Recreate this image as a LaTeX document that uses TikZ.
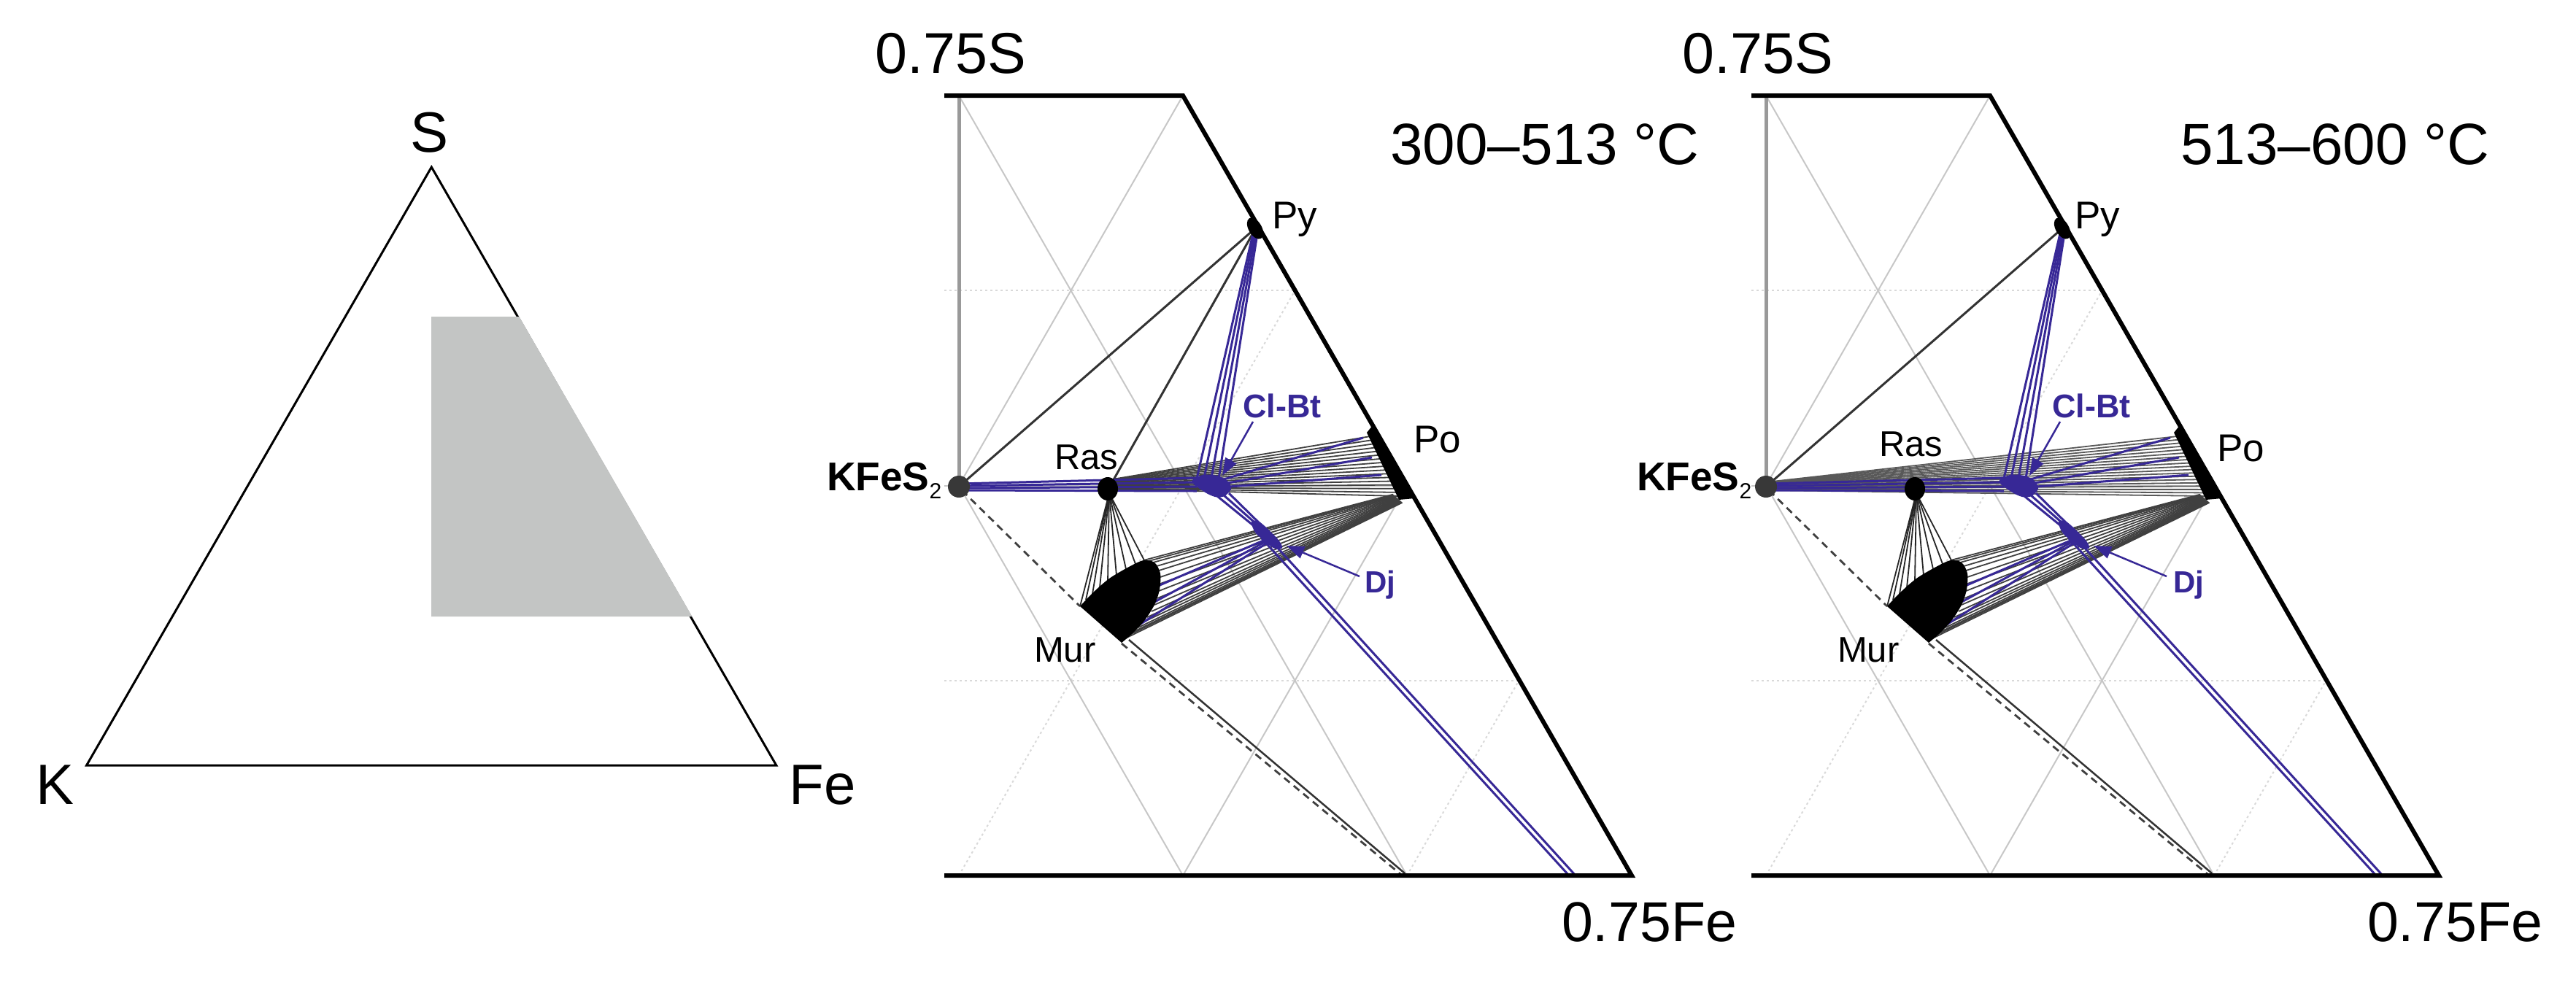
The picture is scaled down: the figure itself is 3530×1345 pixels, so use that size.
\documentclass[tikz,border=0pt]{standalone}
\usepackage{fontspec}
\setmainfont{Liberation Sans}
\usetikzlibrary{arrows.meta}
\definecolor{tieblue}{RGB}{55,40,150}
\definecolor{shadegrey}{RGB}{195,197,196}
\newcommand\myfs[1]{\fontsize{#1}{#1}\selectfont}
\newcommand\kfsub{\raisebox{-11pt}{\fontsize{30}{30}\selectfont\mdseries 2}}
\begin{document}
\begin{tikzpicture}[x=1pt,y=-1pt,
  lbl/.style={inner sep=0pt, outer sep=0pt, anchor=base west},
  lblc/.style={inner sep=0pt, outer sep=0pt, anchor=base},
  gridsolid/.style={draw=black!22, line width=2pt},
  griddot/.style={draw=black!15, line width=2pt, dash pattern=on 3pt off 4pt},
  frameline/.style={draw=black, line width=6pt, line join=miter},
  tieline/.style={draw=black!80, line width=3pt},
  fanline/.style={draw=black!75, line width=1.8pt},
  blueline/.style={draw=tieblue, line width=3pt},
  bluelabel/.style={font=\myfs{45}\bfseries, text=tieblue},
  bluearrow/.style={draw=tieblue, line width=2.5pt, -{Triangle[length=24pt,width=17pt]}},
  dashline/.style={draw=black!75, line width=2.8pt, dash pattern=on 10pt off 7pt}
]
\useasboundingbox (0,0) rectangle (3530,1345);
\fill[white] (0,0) rectangle (3530,1345);

% ---------- left overview triangle ----------
\coordinate (tK) at (118.6,1049);
\coordinate (tFe) at (1063.8,1049);
\coordinate (tS) at (591.3,229);
\draw[line width=3pt, line join=miter] (tK) -- (tFe) -- (tS) -- cycle;
\fill[shadegrey] (591,434) -- (711.5,434) -- (948.5,845) -- (591,845) -- cycle;
\node[lblc, font=\myfs{78}] (labS) at (589,208) {S};
\node[lblc, font=\myfs{78}] (labK) at (76,1102) {K};
\node[lblc, font=\myfs{78}] (labFe) at (1127,1102) {Fe};

% ---------- two phase-diagram panels ----------
\foreach \dx in {0,1106}{
\begin{scope}[xshift=\dx pt]
  % grid
  \draw[griddot] (1294,932.75) -- (2081.5,932.75);
  \draw[griddot] (1294,398.25) -- (1774.5,398.25);
  \draw[gridsolid] (1294,665.5) -- (1928,665.5);
  \draw[griddot] (1314,1200) -- (1774.5,398.25);
  \draw[griddot] (1928,1200) -- (2081.5,932.75);
  \draw[gridsolid] (1314,665.5) -- (1621,131);
  \draw[gridsolid] (1621,1200) -- (1928,665.5);
  \draw[gridsolid] (1314,131) -- (1928,1200);
  \draw[gridsolid] (1314,665.5) -- (1621,1200);
  \draw[draw=black!40, line width=5pt] (1314,131) -- (1314,667);

  \coordinate (kf) at (1314,667);
  \coordinate (ras) at (1518,670);
  \coordinate (py) at (1720,313);

  % fans to pyrrhotite
  \ifnum\dx=0
    \foreach \i in {0,...,16}
      \draw[fanline] (1518,{658+12*\i/16}) -- ({1878+40*\i/16},{598+82*\i/16});
    \draw[tieline] (1520,668) -- (1719,316);
  \else
    \foreach \i in {0,...,18}
      \draw[fanline, draw=black!65] (1322,{660+12*\i/18}) -- ({1878+40*\i/18},{598+82*\i/18});
  \fi
  % Mur - Po fan
  \foreach \mx/\my [count=\c] in {1567/768,1574/769,1580/771,1585/776,1588/782,1590/791,1590/800,1588/810,1586/820,1582/829,1578/838,1572/846,1566/853,1560/860,1553/866,1546/871,1540/876}
    \draw[fanline] (\mx,\my) -- ({1908+0.8*\c},{677+0.7*\c});
  % Ras - Mur fan
  \foreach \mx/\my in {1480/831,1488/822,1497/814,1507/805,1518/797,1530/789,1543/780,1556/773,1568/768}
    \draw[fanline, draw=black!85] (1520,676) -- (\mx,\my);

  % black tie lines
  \draw[tieline] (kf) -- (1719,314);
  \draw[dashline] (1318,672) -- (1480,831);
  \draw[dashline] (1537,882) -- (1919,1198);
  \draw[tieline, line width=2.5pt] (1547,877) -- (1925,1197);

  % blue tie lines
  \draw[blueline] (1314,663) -- (1640,655);
  \draw[blueline] (1314,666) -- (1640,661);
  \draw[blueline] (1314,669) -- (1640,667);
  \draw[blueline] (1314,672) -- (1640,673);
  \draw[blueline] (1640,656) -- (1717,320);
  \draw[blueline] (1650,655) -- (1719,320);
  \draw[blueline] (1660,655) -- (1721,320);
  \draw[blueline] (1670,656) -- (1723,320);
  \draw[blueline] (1677,657) -- (1868,600);
  \draw[blueline] (1682,662) -- (1880,627);
  \draw[blueline] (1685,667) -- (1893,651);
  \draw[blueline] (1668,680) -- (1727,728);
  \draw[blueline] (1676,678) -- (1735,730);
  \draw[blueline] (1684,676) -- (1742,733);
  \draw[blueline] (1729,738) -- (2150,1200);
  \draw[blueline] (1739,738) -- (2159,1200);
  \draw[blueline] (1587,803) -- (1731,741);
  \draw[blueline] (1573,830) -- (1733,743);
  \draw[blueline] (1543,868) -- (1735,745);

  % phase markers
  \fill[black] (1480,831) -- (1537,881) -- plot[smooth] coordinates
     {(1537,881) (1552,868) (1568,851) (1582,829) (1589,808) (1590,786) (1582,771) (1567,768) (1547,777) (1520,793) (1497,813) (1480,831)} -- cycle;
  \fill[black] (ras) ellipse [x radius=14pt, y radius=16pt];
  \fill[black, rotate around={-60:(py)}] (py) ellipse [x radius=16pt, y radius=9pt];
  \fill[black] (1873,593) -- (1881,583) -- (1939,683) -- (1917,685) -- cycle;
  \fill[tieblue] plot[smooth cycle] coordinates
     {(1633,660) (1648,651) (1668,652) (1682,659) (1687,670) (1678,680) (1665,681) (1650,674)};
  \fill[tieblue] plot[smooth cycle] coordinates
     {(1715,715) (1727,716) (1751,739) (1757,751) (1745,751) (1721,731)};
  \fill[black!78] (kf) circle [radius=15pt];

  % frame
  \draw[frameline] (1294,131) -- (1621,131) -- (2236,1200) -- (1294,1200);

  % arrows to Cl-Bt and Dj
  \draw[bluearrow] (1717,578) -- (1675,652);
  \draw[bluearrow] (1863,790) -- (1763,748);
\end{scope}
}

% ---------- labels, panel 1 ----------
\node[lblc, font=\myfs{79}] (a75S) at (1303,100) {0.75S};
\node[lblc, font=\myfs{80}] (aT) at (2117,225) {300–513 °C};
\node[lblc, font=\myfs{77}] (a75Fe) at (2260,1290) {0.75Fe};
\node[lbl, font=\myfs{53}] (aPy) at (1743,313) {Py};
\node[lbl, font=\myfs{53}] (aPo) at (1937,620) {Po};
\node[lbl, font=\myfs{49}] (aRas) at (1445,643) {Ras};
\node[lbl, font=\myfs{49}] (aMur) at (1417,907) {Mur};
\node[lbl, font=\myfs{55}\bfseries] (aKF) at (1133,672) {KFeS\kfsub};
\node[lbl, bluelabel] (aCl) at (1703,572) {Cl-Bt};
\node[lbl, bluelabel, font=\myfs{42}\bfseries] (aDj) at (1870,812) {Dj};

% ---------- labels, panel 2 ----------
\node[lblc, font=\myfs{79}] (b75S) at (2409,100) {0.75S};
\node[lblc, font=\myfs{80}] (bT) at (3200,225) {513–600 °C};
\node[lblc, font=\myfs{77}] (b75Fe) at (3364,1290) {0.75Fe};
\node[lbl, font=\myfs{53}] (bPy) at (2843,313) {Py};
\node[lbl, font=\myfs{53}] (bPo) at (3038,632) {Po};
\node[lbl, font=\myfs{49}] (bRas) at (2575,625) {Ras};
\node[lbl, font=\myfs{49}] (bMur) at (2518,907) {Mur};
\node[lbl, font=\myfs{55}\bfseries] (bKF) at (2243,672) {KFeS\kfsub};
\node[lbl, bluelabel] (bCl) at (2812,572) {Cl-Bt};
\node[lbl, bluelabel, font=\myfs{42}\bfseries] (bDj) at (2978,812) {Dj};
\end{tikzpicture}
\end{document}
